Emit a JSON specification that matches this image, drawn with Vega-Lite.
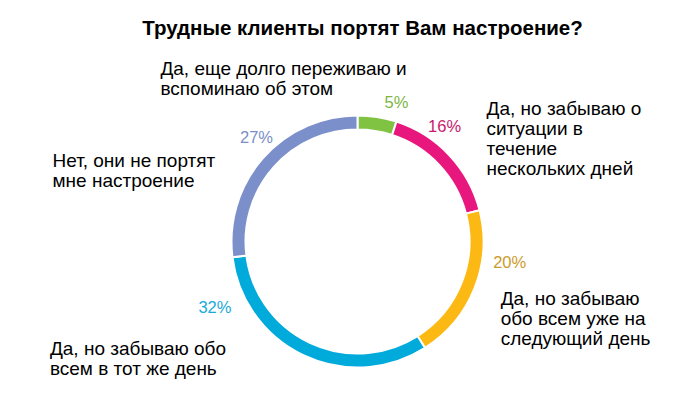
{
  "$schema": "https://vega.github.io/schema/vega-lite/v6.json",
  "width": 685,
  "height": 317,
  "autosize": "none",
  "padding": {"left": 15, "top": 83, "right": 0, "bottom": 0},
  "background": "white",
  "config": {"view": {"stroke": null}, "font": "Liberation Sans"},
  "title": {
    "text": "Трудные клиенты портят Вам настроение?",
    "font": "Liberation Sans",
    "fontSize": 20.5,
    "fontWeight": "bold",
    "color": "#000000",
    "anchor": "middle",
    "frame": "group",
    "baseline": "alphabetic",
    "offset": 5,
    "dx": 5
  },
  "data": {
    "values": [
      {"order": 1, "category": "Да, еще долго переживаю и вспоминаю об этом", "label": "Да, еще долго переживаю и|вспоминаю об этом", "value": 5, "pct": "5%"},
      {"order": 2, "category": "Да, но забываю о ситуации в течение нескольких дней", "label": "Да, но забываю о|ситуации в|течение|нескольких дней", "value": 16, "pct": "16%"},
      {"order": 3, "category": "Да, но забываю обо всем уже на следующий день", "label": "Да, но забываю|обо всем уже на|следующий день", "value": 20, "pct": "20%"},
      {"order": 4, "category": "Да, но забываю обо всем в тот же день", "label": "Да, но забываю обо|всем в тот же день", "value": 32, "pct": "32%"},
      {"order": 5, "category": "Нет, они не портят мне настроение", "label": "Нет, они не портят|мне настроение", "value": 27, "pct": "27%"}
    ]
  },
  "encoding": {
    "theta": {"field": "value", "type": "quantitative", "stack": true},
    "order": {"field": "order", "type": "quantitative"}
  },
  "layer": [
    {
      "mark": {"type": "arc", "innerRadius": 112, "outerRadius": 126, "stroke": "white", "strokeWidth": 2},
      "encoding": {
        "color": {
          "field": "category",
          "type": "nominal",
          "scale": {
            "domain": [
              "Да, еще долго переживаю и вспоминаю об этом",
              "Да, но забываю о ситуации в течение нескольких дней",
              "Да, но забываю обо всем уже на следующий день",
              "Да, но забываю обо всем в тот же день",
              "Нет, они не портят мне настроение"
            ],
            "range": ["#80C342", "#E8177D", "#FDB913", "#00AADB", "#7B8FCB"]
          },
          "legend": null
        }
      }
    },
    {
      "mark": {
        "type": "text",
        "radius": 140,
        "fontSize": 16.5,
        "font": "Liberation Sans",
        "align": "center",
        "baseline": "middle",
        "dx": {"expr": "[17, -15, 22, -83, 4][datum.order - 1]"},
        "dy": {"expr": "[0, -19, -30, -60, -11][datum.order - 1]"}
      },
      "encoding": {
        "text": {"field": "pct", "type": "nominal"},
        "color": {
          "field": "pct",
          "type": "nominal",
          "scale": {
            "domain": ["5%", "16%", "20%", "32%", "27%"],
            "range": ["#7DB544", "#C8196E", "#CC9A2A", "#19A9D9", "#7B8FC8"]
          },
          "legend": null
        }
      }
    },
    {
      "mark": {
        "type": "text",
        "radius": 140,
        "fontSize": 19,
        "font": "Liberation Sans",
        "color": "#000000",
        "align": "left",
        "baseline": "alphabetic",
        "lineBreak": "|",
        "lineHeight": 20,
        "dx": {"expr": "[-219, 27, 13, -248, -200][datum.order - 1]"},
        "dy": {"expr": "[-28, -31, 12, -13, 18][datum.order - 1]"}
      },
      "encoding": {
        "text": {"field": "label", "type": "nominal"}
      }
    }
  ],
  "resolve": {"scale": {"color": "independent"}}
}
